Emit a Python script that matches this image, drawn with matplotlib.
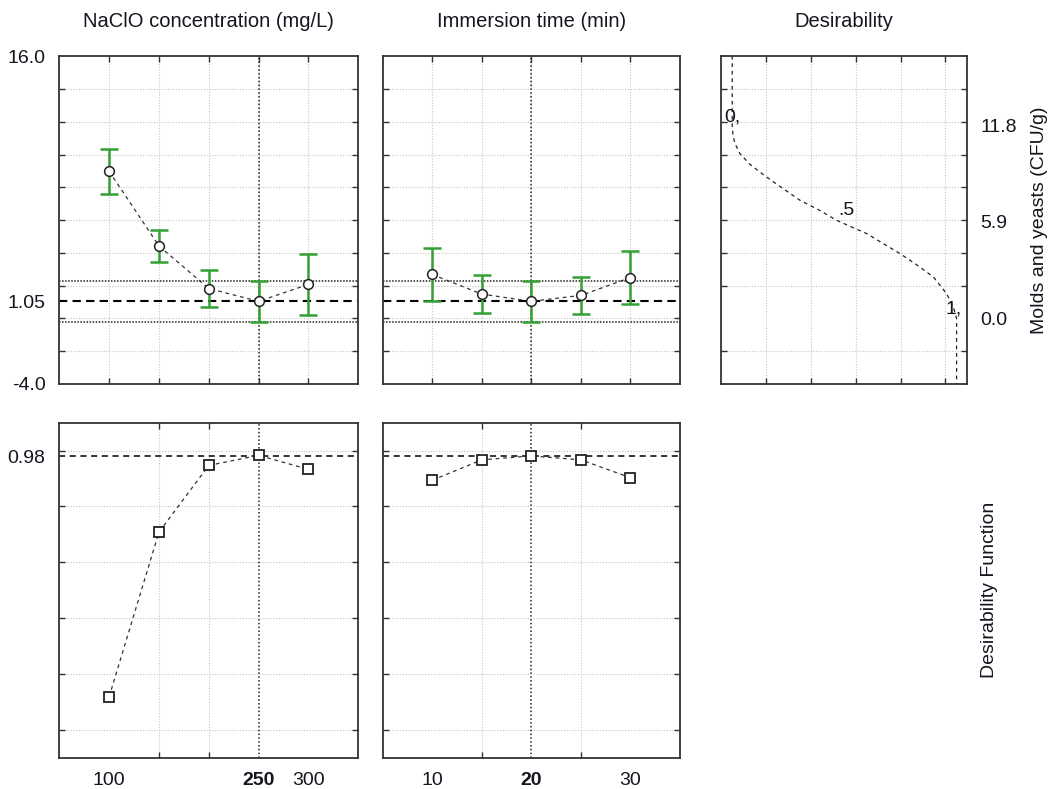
import matplotlib
matplotlib.use("Agg")
import matplotlib.pyplot as plt
import numpy as np

plt.rcParams['font.family'] = ['Liberation Sans', 'DejaVu Sans']

# ---------------- data ----------------
conc = [100, 150, 200, 250, 300]
conc_pred = [8.99, 4.43, 1.83, 1.05, 2.08]
conc_err = [1.38, 1.00, 1.13, 1.27, 1.84]
conc_des = [0.118, 0.708, 0.947, 0.983, 0.933]

time = [10, 15, 20, 25, 30]
time_pred = [2.69, 1.49, 1.05, 1.41, 2.50]
time_err = [1.63, 1.17, 1.27, 1.13, 1.64]
time_des = [0.894, 0.967, 0.981, 0.967, 0.903]

opt_conc = 250
opt_time = 20
opt_pred = 1.05
opt_ci = [-0.22, 2.32]
opt_des = 0.98

# desirability function curve (desirability, molds & yeasts)
des_d = [0.0, 0.0, 0.003, 0.012, 0.034, 0.08, 0.153, 0.23, 0.302, 0.39, 0.465,
         0.53, 0.599, 0.67, 0.747, 0.82, 0.896, 0.955, 0.985, 1.0, 1.0]
des_y = [16.5, 11.8, 11.2, 10.7, 10.07, 9.4, 8.64, 7.9, 7.22, 6.6, 6.0,
         5.6, 5.19, 4.6, 3.97, 3.3, 2.54, 1.53, 0.71, 0.0, -4.5]
des_breaks = [11.8, 5.9, 0.0]
des_break_labels = ['11.8', '5.9', '0.0']

titles = ['NaClO concentration (mg/L)', 'Immersion time (min)', 'Desirability']

# ---------------- figure ----------------
W, H = 1053, 789
fig = plt.figure(figsize=(W / 100, H / 100), dpi=100)

def fr(l, r, t, b):
    return [l / W, 1 - b / H, (r - l) / W, (b - t) / H]

ax_tl = fig.add_axes(fr(59.3, 358.3, 56.5, 384))
ax_tm = fig.add_axes(fr(382.7, 680, 56.5, 384))
ax_tr = fig.add_axes(fr(721, 966.7, 56.5, 384))
ax_bl = fig.add_axes(fr(59.3, 358.3, 422.7, 757.7))
ax_bm = fig.add_axes(fr(382.7, 680, 422.7, 757.7))

GRID = dict(color='#c4c4c4', linestyle=(0, (1, 1.5)), linewidth=0.8)
GREEN = '#33a033'
FS = 14
TXT = '#151520'

def style(ax):
    for s in ax.spines.values():
        s.set_color('#333333')
        s.set_linewidth(1.3)
    ax.tick_params(which='minor', direction='in', length=4, width=1,
                   color='#333333', top=True, right=True, bottom=True, left=True)
    ax.tick_params(which='major', length=0, labelsize=FS, colors=TXT)
    ax.grid(which='minor', **GRID)
    ax.grid(which='major', visible=False)
    ax.set_axisbelow(True)

ygrid_top = np.arange(-2, 15, 2)
ygrid_bot = np.arange(0, 1.01, 0.2)

for ax, xs, pred, err, xopt, xlim, xgrid in [
        (ax_tl, conc, conc_pred, conc_err, opt_conc, (50, 350), conc),
        (ax_tm, time, time_pred, time_err, opt_time, (5, 35), time)]:
    style(ax)
    ax.set_xlim(*xlim)
    ax.set_ylim(-4, 16)
    ax.set_xticks(xgrid, minor=True)
    ax.set_yticks(ygrid_top, minor=True)
    ax.set_xticks([])
    ax.axhline(opt_pred, color='black', linestyle=(0, (4, 2.5)), linewidth=1.5, zorder=2)
    for c in opt_ci:
        ax.axhline(c, color='#222222', linestyle=(0, (1, 1)), linewidth=1.1, zorder=2)
    ax.axvline(xopt, color='#222222', linestyle=(0, (1, 1.5)), linewidth=1.1, zorder=2)
    ax.errorbar(xs, pred, yerr=err, fmt='none', ecolor=GREEN, elinewidth=1.8,
                capsize=6.5, capthick=1.8, zorder=3)
    ax.plot(xs, pred, color='#333333', linestyle=(0, (3, 3)), linewidth=0.9, zorder=4)
    ax.plot(xs, pred, linestyle='none', marker='o', markersize=7,
            markerfacecolor='white', markeredgecolor='#222222', markeredgewidth=1.1, zorder=5)

ax_tl.set_yticks([-4, opt_pred, 16])
ax_tl.set_yticklabels(['-4.0', '1.05', '16.0'])
ax_tl.tick_params(axis='y', which='major', pad=10)
ax_tm.set_yticks([])

for ax, xs, des, xopt, xlim, xgrid, labels in [
        (ax_bl, conc, conc_des, opt_conc, (50, 350), conc, ['100', '250', '300']),
        (ax_bm, time, time_des, opt_time, (5, 35), time, ['10', '20', '30'])]:
    style(ax)
    ax.set_xlim(*xlim)
    ax.set_ylim(-0.1, 1.1)
    ax.set_xticks(xgrid, minor=True)
    ax.set_yticks(ygrid_bot, minor=True)
    ticks = [xs[0], xopt, xs[-1]]
    ax.set_xticks(ticks)
    ax.set_xticklabels(labels)
    ax.tick_params(axis='x', which='major', pad=10)
    ax.get_xticklabels()[1].set_fontweight('bold')
    ax.axhline(opt_des, color='black', linestyle=(0, (4, 3)), linewidth=1.1, zorder=2)
    ax.axvline(xopt, color='#222222', linestyle=(0, (1, 1.5)), linewidth=1.1, zorder=2)
    ax.plot(xs, des, color='#333333', linestyle=(0, (3, 3)), linewidth=0.9, zorder=4)
    ax.plot(xs, des, linestyle='none', marker='s', markersize=7,
            markerfacecolor='white', markeredgecolor='#222222', markeredgewidth=1.3, zorder=5)

ax_bl.set_yticks([opt_des])
ax_bl.set_yticklabels(['0.98'])
ax_bl.tick_params(axis='y', which='major', pad=10)
ax_bm.set_yticks([])

# desirability function panel
style(ax_tr)
ax_tr.set_xlim(-0.05, 1.045)
ax_tr.set_ylim(-4, 16)
ax_tr.set_xticks([0.15, 0.35, 0.55, 0.75, 0.95], minor=True)
ax_tr.set_yticks(ygrid_top, minor=True)
ax_tr.set_xticks([])
ax_tr.yaxis.tick_right()
ax_tr.set_yticks(des_breaks)
ax_tr.set_yticklabels(des_break_labels)
ax_tr.tick_params(axis='y', which='major', pad=10, labelright=True, labelleft=False)
ax_tr.tick_params(which='minor', left=True, right=True)
ax_tr.plot(des_d, des_y, color='#222222', linestyle=(0, (3, 3)), linewidth=0.9, zorder=4)
ax_tr.text(0.0, 12.3, '0,', fontsize=FS, ha='center', va='center', color=TXT, zorder=6)
ax_tr.text(0.51, 6.6, '.5', fontsize=FS, ha='center', va='center', color=TXT, zorder=6)
ax_tr.text(0.985, 0.6, '1,', fontsize=FS, ha='center', va='center', color=TXT, zorder=6)

# column titles
for ax, t in zip([ax_tl, ax_tm, ax_tr], titles):
    ax.set_title(t, fontsize=14.5, pad=21, color=TXT)

fig.text(1040 / W, 1 - 220 / H, 'Molds and yeasts (CFU/g)', rotation=90,
         ha='center', va='center', fontsize=FS, color=TXT)
fig.text(990 / W, 1 - 590 / H, 'Desirability Function', rotation=90,
         ha='center', va='center', fontsize=FS, color=TXT)

fig.savefig('out.png', dpi=100, facecolor='white')
